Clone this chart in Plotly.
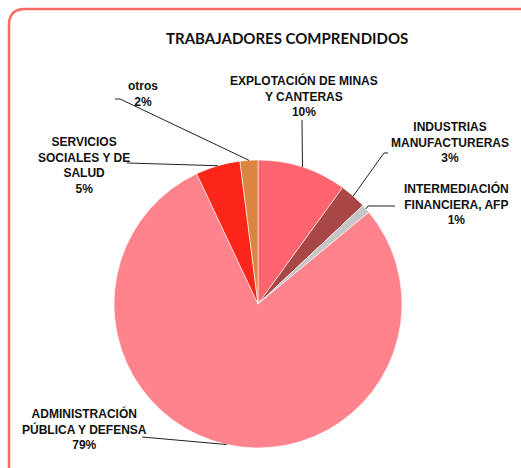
import math
import plotly.graph_objects as go

categories = ["EXPLOTACIÓN DE MINAS<br>Y CANTERAS", "INDUSTRIAS<br>MANUFACTURERAS",
              "INTERMEDIACIÓN<br>FINANCIERA, AFP", "ADMINISTRACIÓN<br>PÚBLICA Y DEFENSA",
              "SERVICIOS<br>SOCIALES Y DE<br>SALUD", "otros"]
values = [10, 3, 1, 79, 5, 2]
colors = ["#FF6570", "#A94747", "#C6C6C6", "#FF838D", "#FC2618", "#DC8540"]

W, H = 521, 468
cx, cy, r = 258, 304, 144

# label centers (px) and leader line anchor points (px)
label_pos = [(304, 96), (450, 142), (456, 204), (84, 429), (84, 165), (143, 94)]
leader_pts = [[(302, 120)], [(388, 153), (384, 153)], [(395, 206), (368, 206)],
              [(142, 437)], [(127, 163)], [(115, 99), (120, 99)]]

def px(x, y):
    return x / W, 1 - y / H

fig = go.Figure()
fig.add_trace(go.Pie(
    labels=categories, values=values, sort=False, direction="clockwise", rotation=0,
    marker=dict(colors=colors, line=dict(color="white", width=0.6)),
    textinfo="none", hoverinfo="label+percent", showlegend=False,
    domain=dict(x=[(cx - r) / W, (cx + r) / W], y=[(H - cy - r) / H, (H - cy + r) / H]),
))

total = sum(values)
shapes = []
cum = 0
for i, v in enumerate(values):
    mid = (cum + v / 2) / total * 2 * math.pi
    cum += v
    ex, ey = cx + r * math.sin(mid), cy - r * math.cos(mid)
    pts = leader_pts[i] + [(ex, ey)]
    path = "M " + " L ".join(f"{px(x, y)[0]:.5f},{px(x, y)[1]:.5f}" for x, y in pts)
    shapes.append(dict(type="path", xref="paper", yref="paper", path=path,
                       line=dict(color="#222222", width=1)))

# rounded border
x0, y0, rad = 9, 9, 16
p = [px(x0, 480), px(x0, y0 + rad), px(x0, y0), px(x0 + rad, y0), px(540, y0)]
border = (f"M {p[0][0]:.5f},{p[0][1]:.5f} L {p[1][0]:.5f},{p[1][1]:.5f} "
          f"Q {p[2][0]:.5f},{p[2][1]:.5f} {p[3][0]:.5f},{p[3][1]:.5f} L {p[4][0]:.5f},{p[4][1]:.5f}")
shapes.append(dict(type="path", xref="paper", yref="paper", path=border,
                   line=dict(color="#FF6B63", width=2.5)))

annotations = []
for i, (lx, ly) in enumerate(label_pos):
    pct = round(values[i] / total * 100)
    x, y = px(lx, ly)
    annotations.append(dict(x=x, y=y, xref="paper", yref="paper", showarrow=False,
                            text=f"<b>{categories[i]}<br>{pct}%</b>", align="center",
                            xanchor="center", yanchor="middle",
                            font=dict(family="Liberation Sans, Arial", size=12, color="#111111")))
tx, ty = px(287, 38)
annotations.append(dict(x=tx, y=ty, xref="paper", yref="paper", showarrow=False,
                        text="<b>TRABAJADORES COMPRENDIDOS</b>", xanchor="center", yanchor="middle",
                        font=dict(family="Lato, Liberation Sans", size=15, color="#111111")))

fig.update_layout(width=W, height=H, margin=dict(l=0, r=0, t=0, b=0),
                  paper_bgcolor="white", plot_bgcolor="white",
                  shapes=shapes, annotations=annotations)
fig.write_html("out.html", config={"displayModeBar": False},
               post_script="document.body.style.margin='0';document.body.style.overflow='hidden';")
